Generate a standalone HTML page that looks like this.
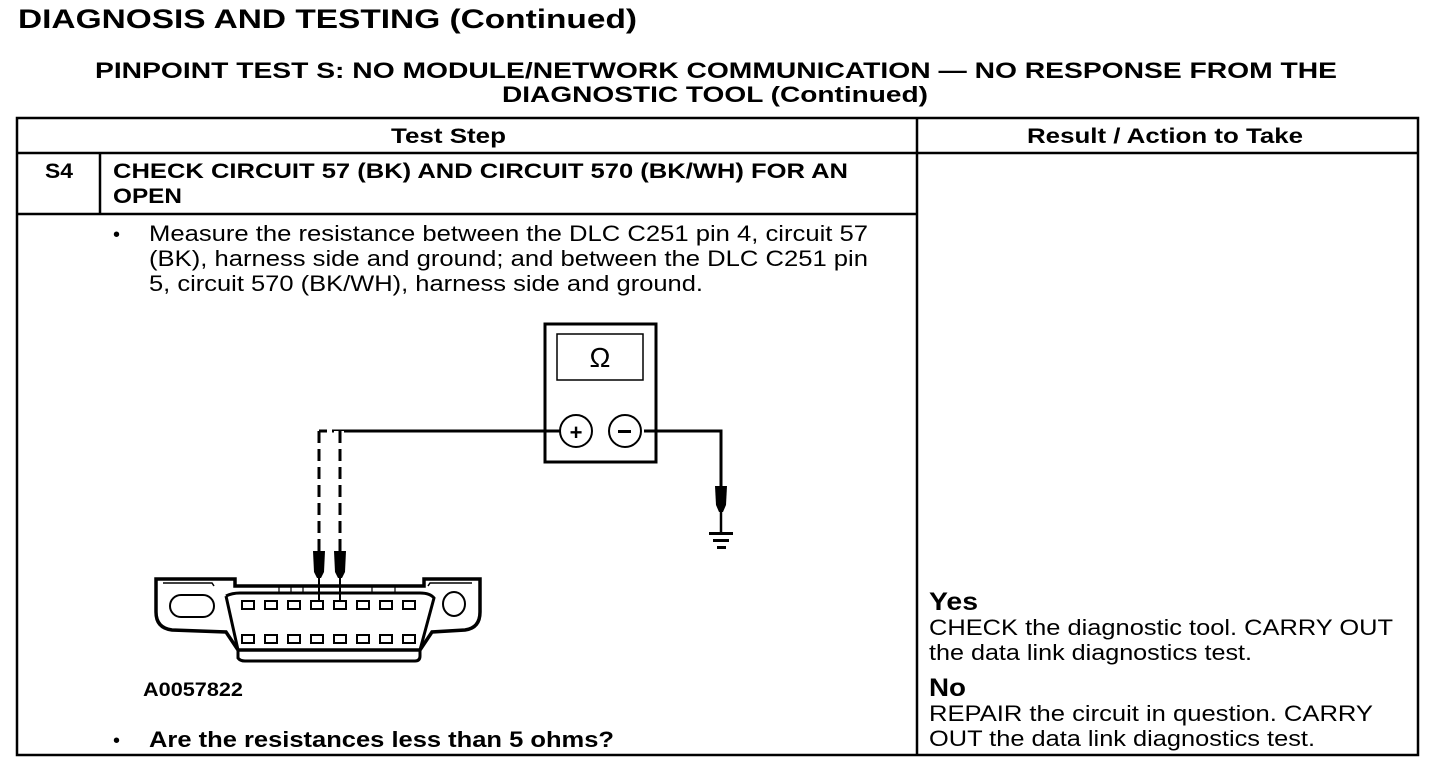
<!DOCTYPE html>
<html><head><meta charset="utf-8"><style>
html,body{margin:0;padding:0;background:#fff;}
svg{display:block;}
text{font-family:"Liberation Sans",Arial,sans-serif;fill:#000;}
.b{font-weight:bold;}
</style></head><body>
<svg width="1456" height="770" viewBox="0 0 1456 770" xmlns="http://www.w3.org/2000/svg">
<text x="18" y="28" class="b" font-size="27" textLength="619" lengthAdjust="spacingAndGlyphs">DIAGNOSIS AND TESTING (Continued)</text>
<text x="95" y="78" class="b" font-size="22" textLength="1242" lengthAdjust="spacingAndGlyphs">PINPOINT TEST  S: NO MODULE/NETWORK COMMUNICATION — NO RESPONSE FROM THE</text>
<text x="502" y="102" class="b" font-size="22" textLength="426" lengthAdjust="spacingAndGlyphs">DIAGNOSTIC TOOL (Continued)</text>

<g stroke="#000" stroke-width="2.5" fill="none">
<rect x="17" y="118" width="1401" height="637"/>
<line x1="17" y1="153" x2="1418" y2="153"/>
<line x1="917" y1="118" x2="917" y2="755"/>
<line x1="17" y1="214" x2="917" y2="214"/>
<line x1="100" y1="153" x2="100" y2="214"/>
</g>
<text x="391" y="143" class="b" font-size="21" textLength="115" lengthAdjust="spacingAndGlyphs">Test Step</text>
<text x="1027" y="143" class="b" font-size="21" textLength="276" lengthAdjust="spacingAndGlyphs">Result / Action to Take</text>
<text x="45" y="178" class="b" font-size="21" textLength="28" lengthAdjust="spacingAndGlyphs">S4</text>
<text x="113" y="178" class="b" font-size="21" textLength="735" lengthAdjust="spacingAndGlyphs">CHECK CIRCUIT 57 (BK) AND CIRCUIT 570 (BK/WH) FOR AN</text>
<text x="113" y="203" class="b" font-size="21" textLength="69" lengthAdjust="spacingAndGlyphs">OPEN</text>

<text x="113" y="241" font-size="20">•</text>
<text x="149" y="241" font-size="22" textLength="719" lengthAdjust="spacingAndGlyphs">Measure the resistance between the DLC C251 pin 4, circuit 57</text>
<text x="149" y="266" font-size="22" textLength="719" lengthAdjust="spacingAndGlyphs">(BK), harness side and ground; and between the DLC C251 pin</text>
<text x="149" y="291" font-size="22" textLength="554" lengthAdjust="spacingAndGlyphs">5, circuit 570 (BK/WH), harness side and ground.</text>

<text x="143" y="696" class="b" font-size="19" textLength="100" lengthAdjust="spacingAndGlyphs">A0057822</text>
<text x="113" y="747" font-size="20">•</text>
<text x="149" y="747" class="b" font-size="22" textLength="465" lengthAdjust="spacingAndGlyphs">Are the resistances less than 5 ohms?</text>

<text x="929" y="610" class="b" font-size="25" textLength="49" lengthAdjust="spacingAndGlyphs">Yes</text>
<text x="929" y="635" font-size="22" textLength="464" lengthAdjust="spacingAndGlyphs">CHECK the diagnostic tool. CARRY OUT</text>
<text x="929" y="660" font-size="22" textLength="323" lengthAdjust="spacingAndGlyphs">the data link diagnostics test.</text>
<text x="929" y="696" class="b" font-size="25" textLength="37" lengthAdjust="spacingAndGlyphs">No</text>
<text x="929" y="721" font-size="22" textLength="444" lengthAdjust="spacingAndGlyphs">REPAIR the circuit in question. CARRY</text>
<text x="929" y="746" font-size="22" textLength="386" lengthAdjust="spacingAndGlyphs">OUT the data link diagnostics test.</text>

<!-- meter -->
<g stroke="#000" fill="none">
<rect x="545" y="324" width="111" height="138" stroke-width="3"/>
<rect x="557" y="334" width="86" height="46" stroke-width="1.5"/>
<polyline points="340,555 340,431 560,431" stroke-width="3"/>
<polyline points="644,431 721,431 721,490" stroke-width="3"/>
<line x1="721" y1="510" x2="721" y2="532" stroke-width="2.5"/>
<line x1="319" y1="431" x2="340" y2="431" stroke-width="3" stroke-dasharray="8,5"/>
<line x1="319" y1="431" x2="319" y2="555" stroke-width="3" stroke-dasharray="12,6"/>
<circle cx="576" cy="431" r="16" stroke-width="2" fill="#fff"/>
<circle cx="625" cy="431" r="16" stroke-width="2" fill="#fff"/>
</g>
<rect x="334" y="431" width="10" height="124" fill="#fff"/>
<line x1="340" y1="431" x2="340" y2="555" stroke="#000" stroke-width="3" stroke-dasharray="12,6"/>
<text x="600" y="367" font-size="28" text-anchor="middle">Ω</text>
<text x="576" y="440" font-size="22" class="b" text-anchor="middle">+</text>
<rect x="618" y="430" width="13" height="3" fill="#000"/>
<!-- ground probe -->
<path d="M715,486 L727,486 L726,505 L723,512 L719,512 L716,505 Z" fill="#000"/>
<rect x="709" y="532" width="24" height="3" fill="#000"/>
<rect x="713" y="539" width="16" height="3" fill="#000"/>
<rect x="717" y="546" width="9" height="3" fill="#000"/>
<!-- probes -->
<path d="M313,551 L325,551 L324,572 L321,578 L317,578 L314,572 Z" fill="#000"/>
<path d="M334,551 L346,551 L345,572 L342,578 L338,578 L335,572 Z" fill="#000"/>
<line x1="319" y1="578" x2="319" y2="602" stroke="#000" stroke-width="2"/>
<line x1="340" y1="578" x2="340" y2="602" stroke="#000" stroke-width="2"/>
<!-- connector -->
<g stroke="#000" fill="none" stroke-width="3.5">
<path d="M156,579 L235,579 L235,586 L424,586 L424,579 L480,579 L480,612 Q480,628 465,630 L432,632 L420,650 L238,650 L226,632 L172,630 Q156,628 156,612 Z"/>
<path d="M226,596 Q232,593 240,593 L420,593 Q430,593 434,598 L420,650 M226,596 L238,650" stroke-width="3"/>
<path d="M238,650 L238,658 Q240,661 245,661 L415,661 Q420,661 420,656 L420,650" stroke-width="3"/>
<rect x="170" y="595" width="44" height="22" rx="11" stroke-width="2"/>
<ellipse cx="454" cy="604" rx="11" ry="12" stroke-width="2"/>
<path d="M163,583 L212,583 L214,586 M428,586 L430,583 L472,583" stroke-width="1.5"/>
</g>
<g fill="none" stroke="#000" stroke-width="2">
<rect x="242" y="601" width="12" height="8"/><rect x="265" y="601" width="12" height="8"/><rect x="288" y="601" width="12" height="8"/><rect x="311" y="601" width="12" height="8"/><rect x="334" y="601" width="12" height="8"/><rect x="357" y="601" width="12" height="8"/><rect x="380" y="601" width="12" height="8"/><rect x="403" y="601" width="12" height="8"/>
<rect x="242" y="635" width="12" height="8"/><rect x="265" y="635" width="12" height="8"/><rect x="288" y="635" width="12" height="8"/><rect x="311" y="635" width="12" height="8"/><rect x="334" y="635" width="12" height="8"/><rect x="357" y="635" width="12" height="8"/><rect x="380" y="635" width="12" height="8"/><rect x="403" y="635" width="12" height="8"/>
<path d="M279,586 L279,594 M291,586 L291,594 M303,586 L303,594 M372,586 L372,594 M395,586 L395,594" stroke-width="1.2"/>
</g>
</svg>
</body></html>
